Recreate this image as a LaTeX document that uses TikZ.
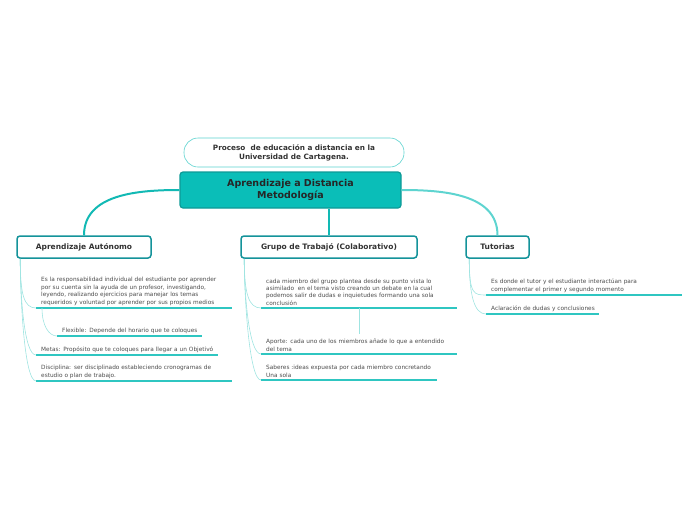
\documentclass[tikz,border=0pt]{standalone}
\usepackage{fontspec}
\setmainfont{DejaVu Sans}
\usetikzlibrary{positioning}

\definecolor{hubfill}{HTML}{0ABEB8}
\definecolor{hubline}{HTML}{0E9A97}
\definecolor{boxline}{HTML}{14939A}
\definecolor{limbc}{HTML}{12B9B4}
\definecolor{limblight}{HTML}{5ED4D0}
\definecolor{ulinec}{HTML}{2FC6C1}
\definecolor{twigc}{HTML}{9FE4E1}
\definecolor{notec}{HTML}{5CD3CF}

\tikzset{
  hub/.style={draw=hubline, fill=hubfill, line width=1.2pt, rounded corners=3pt,
    minimum width=221pt, minimum height=36pt, align=center, text=black!85,
    font=\bfseries\fontsize{9.5}{12}\selectfont},
  note/.style={draw=notec, fill=white, line width=0.6pt, rounded corners=14pt,
    minimum width=220pt, minimum height=29pt, align=center, text=black!80,
    font=\bfseries\fontsize{7.3}{9}\selectfont},
  branch/.style={draw=boxline, fill=white, line width=1.5pt, rounded corners=3pt,
    minimum height=22pt, text=black!80, font=\bfseries\fontsize{7.5}{8}\selectfont},
  leaf/.style={anchor=south west, inner xsep=5pt, inner ysep=2.5pt, align=left,
    text=black!70, font=\fontsize{5.8}{7.4}\selectfont},
  uline/.style={draw=ulinec, line width=1.2pt},
  twig/.style={draw=twigc, line width=0.6pt},
  limb/.style={draw=limbc, line width=2pt},
  droop/.style={to path={.. controls +(0,36) and +(-12,0) .. (\tikztotarget)}}
}

\begin{document}
\begin{tikzpicture}[x=1pt,y=-1pt]
\useasboundingbox (0,0) rectangle (696,520);

% TOP
\node[note] (proc) at (294,152.5) {Proceso\ \ de educación a distancia en la\\Universidad de Cartagena.};
\node[hub] (hub) at (290.5,190) {Aprendizaje a Distancia\\Metodología};

% BRANCHES
\node[branch, minimum width=134pt] (auto) at (84,247) {Aprendizaje Autónomo};
\node[branch, minimum width=176pt] (grupo) at (329,247) {Grupo de Trabajó (Colaborativo)};
\node[branch, minimum width=63pt] (tut) at (497.5,247) {Tutorias};

\draw[limb] (hub.west) to[out=180,in=90] (auto.north);
\draw[limb] (grupo.north) -- (grupo.north |- hub.south);
\draw[limb, draw=limblight] (hub.east) to[out=0,in=90] (tut.north);

% LEAVES - autonomo
\node[leaf, text width=186pt] (a1) at (36,308) {Es la responsabilidad individual del estudiante por aprender\\por su cuenta sin la ayuda de un profesor, investigando,\\leyendo, realizando ejercicios para manejar los temas\\requeridos y voluntad por aprender por sus propios medios};
\node[leaf, text width=135pt] (a2) at (57,336) {\mbox{Flexible: Depende del horario que te coloques}};
\node[leaf, text width=172pt] (a3) at (36,355) {\mbox{Metas: Propósito que te coloques para llegar a un Objetivó}};
\node[leaf, text width=186pt] (a4) at (36,381) {Disciplina: ser disciplinado estableciendo cronogramas de\\estudio o plan de trabajo.};

% LEAVES - grupo
\node[leaf, text width=186pt] (g1) at (261,308) {cada miembro del grupo plantea desde su punto vista lo\\asimilado\ \ en el tema visto creando un debate en la cual\\podemos salir de dudas e inquietudes formando una sola\\conclusión};
\node[leaf, text width=186pt] (g2) at (261,354) {Aporte: cada uno de los miembros añade lo que a entendido\\del tema};
\node[leaf, text width=166pt] (g3) at (261,380) {Saberes :ideas expuesta por cada miembro concretando\\Una sola};

% LEAVES - tutorias
\node[leaf, text width=186pt] (t1) at (486,295) {Es donde el tutor y el estudiante interactúan para\\complementar el primer y segundo momento};
\node[leaf, text width=103pt] (t2) at (486,314) {\mbox{Aclaración de dudas y conclusiones}};

% UNDERLINES
\foreach \n in {a1,a2,a3,a4,g1,g2,g3,t1,t2}
  \draw[uline] (\n.south west) -- (\n.south east);

% TWIGS
\coordinate (aroot) at ([xshift=4pt]auto.south west);
\coordinate (groot) at ([xshift=4pt]grupo.south west);
\coordinate (troot) at ([xshift=4pt]tut.south west);
\foreach \n in {a1,a3,a4}
  \draw[twig] (aroot) to[droop] (\n.south west);
\foreach \n in {g1,g2,g3}
  \draw[twig] (groot) to[droop] (\n.south west);
\foreach \n in {t1,t2}
  \draw[twig] (troot) to[droop] (\n.south west);
\draw[twig] ([xshift=6pt]a1.south west) .. controls +(0,18) and +(-8,0) .. (a2.south west);
\coordinate (gdrop) at ([yshift=-26pt]g1.south);
\draw[twig] (g1.south) -- (gdrop);

\end{tikzpicture}
\end{document}
